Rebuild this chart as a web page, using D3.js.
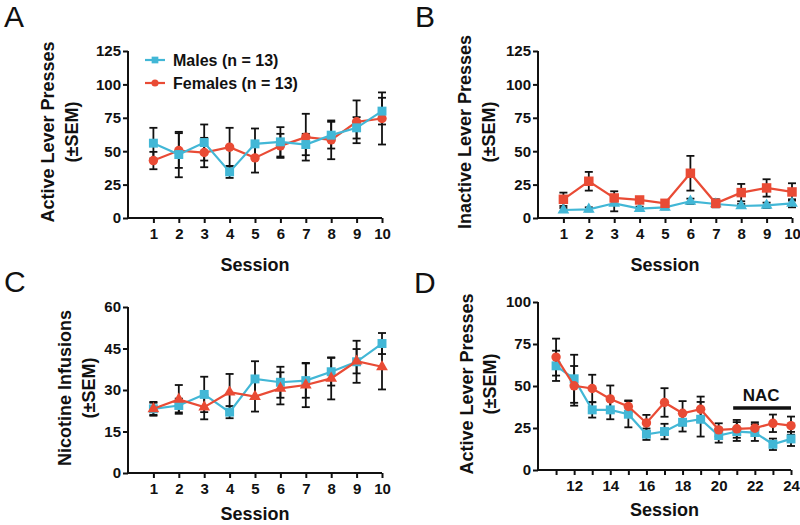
<!DOCTYPE html>
<html>
<head>
<meta charset="utf-8">
<title>Nicotine self-administration by sex</title>
<script src="https://d3js.org/d3.v7.min.js"></script>
<style>
  body { margin: 0; background: #fff; }
  text { font-family: 'Liberation Sans', Arial, sans-serif; }
</style>
</head>
<body>
<div id="chart"></div>
<script>
// ******* Data *******
const sessionsAC = [1, 2, 3, 4, 5, 6, 7, 8, 9, 10];
const sessionsD = [11, 12, 13, 14, 15, 16, 17, 18, 19, 20, 21, 22, 23, 24];

// A: active lever presses
const activeMales = [56, 47.5, 56.5, 34.5, 55.5, 57, 55, 62, 67.5, 80];
const activeMalesSem = [11.5, 17, 13.5, 4.5, 11.5, 11, 8, 10, 8, 10];
const activeFemales = [43, 50.5, 49, 53, 45, 54, 60.5, 58.5, 72, 74.5];
const activeFemalesSem = [6.5, 13, 11, 14.5, 11, 9, 17.5, 14.5, 16, 19.5];

// B: inactive lever presses
const inactiveMales = [6, 6.5, 11, 7, 8, 12.5, 10.5, 9, 9.5, 11];
const inactiveMalesSem = [1.5, 1.5, 6, 1.5, 1.5, 2, 2, 1.5, 2, 3];
const inactiveFemales = [14, 27.5, 15, 13.5, 11, 33.5, 11, 19, 22.5, 19.5];
const inactiveFemalesSem = [5, 7, 5, 2, 1.5, 13, 3, 6.5, 6.5, 6.5];

// C: nicotine infusions
const infMales = [23.2, 24.4, 28.4, 22, 34, 32.8, 33.4, 36.6, 40.2, 46.8];
const infMalesSem = [2.5, 2.5, 6.4, 2.2, 6.4, 5.6, 6.2, 5, 7.6, 3.8];
const infFemales = [23.2, 26.6, 23.8, 29.2, 27.6, 30.6, 31.8, 34.2, 40.4, 38.4];
const infFemalesSem = [2.2, 5.2, 4.4, 6.6, 5.4, 5.8, 8, 7.6, 4.4, 8.2];

// D: active lever presses, sessions 11-24
const dMales = [62, 54.3, 35.8, 35.8, 33.2, 21.3, 22.9, 28.4, 30.2, 20.5, 22.9, 22.3, 15.3, 18.5];
const dMalesSem = [9, 14.3, 4.6, 5.6, 7.8, 3.4, 4.6, 5.5, 10.3, 4.2, 5.6, 5, 3.4, 4.2];
const dFemales = [67.2, 50.1, 48.5, 42.3, 37.8, 28, 40.2, 33.8, 36.2, 23.9, 24.5, 24.9, 27.8, 26.4];
const dFemalesSem = [11, 11.8, 8.2, 8, 3.6, 4.8, 8.5, 7.2, 7.5, 3.9, 5.3, 3.5, 5.2, 5.4];

const ticksA = [0, 25, 50, 75, 100, 125];
const ticksC = [0, 15, 30, 45, 60];
const ticksD = [0, 25, 50, 75, 100];
const xTicksD = [12, 14, 16, 18, 20, 22, 24];
const nacSessions = [20.8, 24];

const cyan = "#42b7d6",
      red = "#e94b35";

// ******* SVG *******
const svg = d3.select("#chart").append("svg")
    .attr("width", 800)
    .attr("height", 525);

// one panel = axes + labels + series
function panel(opt) {
  const g = svg.append("g");
  const x = d3.scaleLinear().domain(opt.xDomain).range(opt.xRange);
  const y = d3.scaleLinear().domain(opt.yDomain).range(opt.yRange);

  // axes
  g.append("g")
      .attr("transform", `translate(0,${opt.yRange[0]})`)
      .call(d3.axisBottom(x).tickValues(opt.xTickMarks).tickSize(5)
            .tickFormat(d => opt.xTickLabels.includes(d) ? d : ""))
      .call(ax => {
        ax.select(".domain").attr("d", `M${opt.xRange[0]},0H${opt.xRange[1]}`);
        ax.selectAll("text").attr("dy", "0.95em").attr("y", 7);
      });
  g.append("g")
      .attr("transform", `translate(${opt.xRange[0]},0)`)
      .call(d3.axisLeft(y).tickValues(opt.yTicks).tickSize(5).tickPadding(2))
      .call(ax => ax.select(".domain").attr("d", `M0,${opt.yRange[0]}V${opt.yRange[1]}`));
  g.selectAll(".domain, .tick line").attr("stroke", "#111").attr("stroke-width", 2);
  g.selectAll(".tick text")
      .attr("font-size", 15).attr("font-weight", "bold").attr("fill", "#111");

  // axis titles
  const cx = (opt.xRange[0] + opt.xRange[1]) / 2;
  g.append("text")
      .attr("x", cx).attr("y", opt.yRange[0] + opt.xLabelGap)
      .attr("text-anchor", "middle")
      .attr("font-size", 18).attr("font-weight", "bold").attr("fill", "#111")
      .text("Session");
  const cy = opt.yLabelY;
  opt.yLabel.forEach((line, i) => {
    g.append("text")
        .attr("transform", `translate(${opt.yLabelX[i]},${cy}) rotate(-90)`)
        .attr("text-anchor", "middle")
        .attr("dy", "0.35em")
        .attr("font-size", 18).attr("font-weight", "bold").attr("fill", "#111")
        .text(line);
  });

  // panel letter
  g.append("text")
      .attr("x", opt.letterPos[0]).attr("y", opt.letterPos[1])
      .attr("font-size", 30).attr("fill", "#111")
      .text(opt.letter);

  // series: error bars first, then lines and markers
  opt.series.forEach(s => {
    const eb = g.append("g");
    s.values.forEach((v, i) => {
      const xi = x(opt.sessions[i]);
      const lo = y(Math.max(0, v - s.sem[i])), hi = y(v + s.sem[i]);
      eb.append("line").attr("x1", xi).attr("x2", xi).attr("y1", lo).attr("y2", hi)
          .attr("stroke", "#111").attr("stroke-width", 1.8);
      [lo, hi].forEach(yy => eb.append("line")
          .attr("x1", xi - 4).attr("x2", xi + 4).attr("y1", yy).attr("y2", yy)
          .attr("stroke", "#111").attr("stroke-width", 1.8));
    });
  });
  opt.series.forEach(s => {
    g.append("path")
        .datum(s.values)
        .attr("fill", "none")
        .attr("stroke", s.color)
        .attr("stroke-width", 2.2)
        .attr("d", d3.line().x((d, i) => x(opt.sessions[i])).y(d => y(d)));
    g.selectAll(null)
        .data(s.values)
        .join("path")
        .attr("transform", (d, i) => `translate(${x(opt.sessions[i])},${y(d)})`)
        .attr("fill", s.color)
        .attr("d", d3.symbol().type(s.symbol).size(s.size));
  });
  return {x, y, g};
}

// ******* A *******
const pA = panel({
  letter: "A", letterPos: [4, 27],
  sessions: sessionsAC,
  xDomain: [0, 10], xRange: [128, 382],
  yDomain: [0, 125], yRange: [218, 51],
  xTickMarks: sessionsAC, xTickLabels: sessionsAC, yTicks: ticksA, xLabelGap: 53,
  yLabel: ["Active Lever Presses", "(\u00B1SEM)"], yLabelX: [48, 72], yLabelY: 132,
  series: [
    {values: activeFemales, sem: activeFemalesSem, color: red, symbol: d3.symbolCircle, size: 70},
    {values: activeMales, sem: activeMalesSem, color: cyan, symbol: d3.symbolSquare, size: 80}
  ]
});

// legend
const legend = [
  {label: "Males (n = 13)", color: cyan, symbol: d3.symbolSquare, size: 45},
  {label: "Females (n = 13)", color: red, symbol: d3.symbolCircle, size: 40}
];
legend.forEach((l, i) => {
  const ly = 60 + i * 23;
  pA.g.append("line").attr("x1", 145).attr("x2", 165).attr("y1", ly).attr("y2", ly)
      .attr("stroke", l.color).attr("stroke-width", 2.2);
  pA.g.append("path").attr("transform", `translate(155,${ly})`)
      .attr("fill", l.color).attr("d", d3.symbol().type(l.symbol).size(l.size));
  pA.g.append("text").attr("x", 173).attr("y", ly).attr("dy", "0.36em")
      .attr("font-size", 16).attr("font-weight", "bold").attr("fill", "#111")
      .text(l.label);
});

// ******* B *******
panel({
  letter: "B", letterPos: [415, 27],
  sessions: sessionsAC,
  xDomain: [0, 10], xRange: [538, 792],
  yDomain: [0, 125], yRange: [218, 51],
  xTickMarks: sessionsAC, xTickLabels: sessionsAC, yTicks: ticksA, xLabelGap: 53,
  yLabel: ["Inactive Lever Presses", "(\u00B1SEM)"], yLabelX: [465, 489], yLabelY: 132,
  series: [
    {values: inactiveMales, sem: inactiveMalesSem, color: cyan, symbol: d3.symbolTriangle, size: 60},
    {values: inactiveFemales, sem: inactiveFemalesSem, color: red, symbol: d3.symbolSquare, size: 90}
  ]
});

// ******* C *******
panel({
  letter: "C", letterPos: [4, 292],
  sessions: sessionsAC,
  xDomain: [0, 10], xRange: [128, 382],
  yDomain: [0, 60], yRange: [473, 307],
  xTickMarks: sessionsAC, xTickLabels: sessionsAC, yTicks: ticksC, xLabelGap: 47,
  yLabel: ["Nicotine Infusions", "(\u00B1SEM)"], yLabelX: [65, 89], yLabelY: 388,
  series: [
    {values: infMales, sem: infMalesSem, color: cyan, symbol: d3.symbolSquare, size: 80},
    {values: infFemales, sem: infFemalesSem, color: red, symbol: d3.symbolTriangle, size: 60}
  ]
});

// ******* D *******
const pD = panel({
  letter: "D", letterPos: [414, 293],
  sessions: sessionsD,
  xDomain: [10, 24], xRange: [538, 791],
  yDomain: [0, 100], yRange: [470, 302],
  xTickMarks: sessionsD, xTickLabels: xTicksD, yTicks: ticksD, xLabelGap: 46,
  yLabel: ["Active Lever Presses", "(\u00B1SEM)"], yLabelX: [467, 490], yLabelY: 384,
  series: [
    {values: dMales, sem: dMalesSem, color: cyan, symbol: d3.symbolSquare, size: 80},
    {values: dFemales, sem: dFemalesSem, color: red, symbol: d3.symbolCircle, size: 70}
  ]
});

// NAC treatment bar
pD.g.append("line")
    .attr("x1", pD.x(nacSessions[0])).attr("x2", pD.x(nacSessions[1]))
    .attr("y1", 408).attr("y2", 408)
    .attr("stroke", "#111").attr("stroke-width", 3.5);
pD.g.append("text")
    .attr("x", (pD.x(nacSessions[0]) + pD.x(nacSessions[1])) / 2 - 1)
    .attr("y", 401)
    .attr("text-anchor", "middle")
    .attr("font-size", 17).attr("font-weight", "bold").attr("fill", "#111")
    .text("NAC");
</script>
</body>
</html>
